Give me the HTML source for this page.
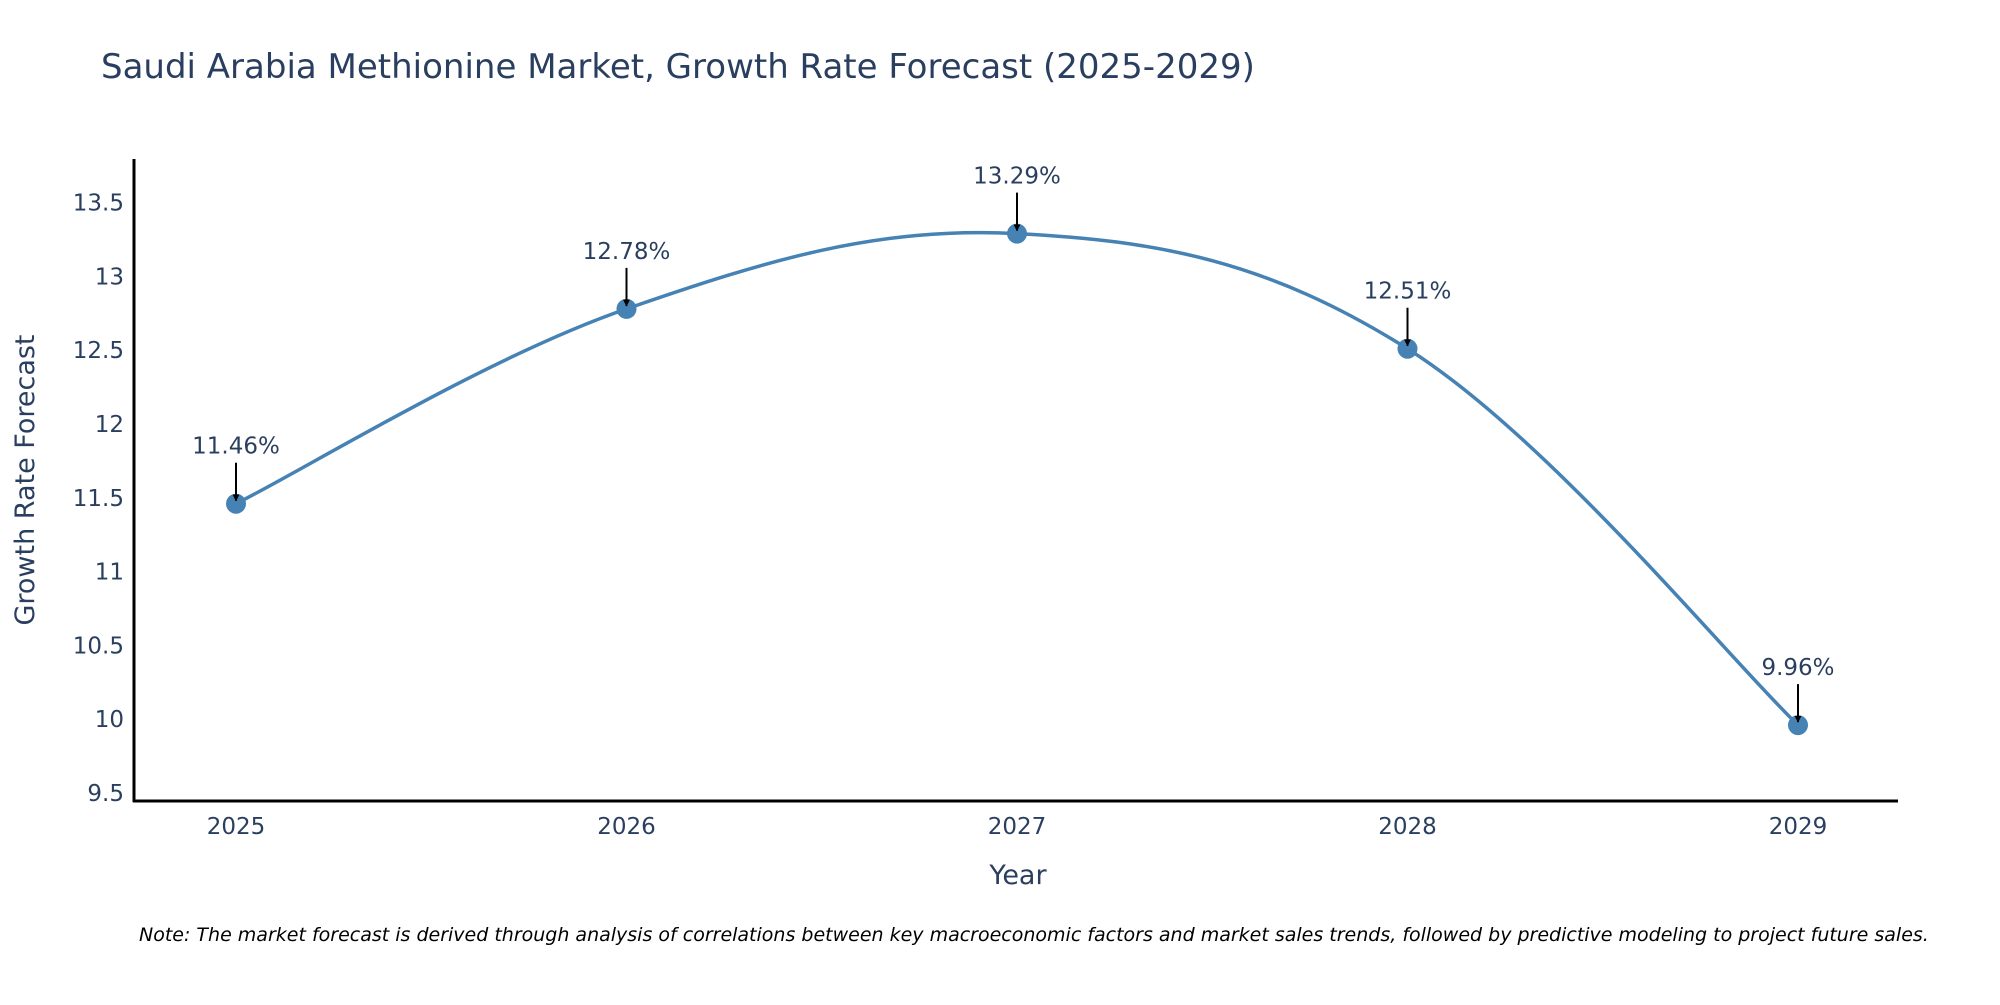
<!DOCTYPE html>
<html><head><meta charset="utf-8"><style>
body{margin:0;background:#fff;}
svg{font-family:"DejaVu Sans","Liberation Sans",sans-serif;}
</style></head><body>
<svg width="2000" height="1000" viewBox="0 0 2000 1000">
<defs><marker id="ah" viewBox="0 0 10 10" refX="9" refY="5" markerWidth="7" markerHeight="7" markerUnits="userSpaceOnUse" orient="auto"><path d="M0,0L10,5L0,10z" fill="#000"/></marker></defs>
<text x="101" y="78" font-size="34" fill="#2a3f5f">Saudi Arabia Methionine Market, Growth Rate Forecast (2025-2029)</text>
<g id="yt"></g>
<g id="xt"></g>
<line x1="134" y1="159" x2="134" y2="802" stroke="#000" stroke-width="3"/>
<line x1="133" y1="801" x2="1898" y2="801" stroke="#000" stroke-width="3"/>
<text transform="translate(34,480) rotate(-90)" text-anchor="middle" font-size="27" fill="#2a3f5f">Growth Rate Forecast</text>
<text x="1018" y="884" text-anchor="middle" font-size="27" fill="#2a3f5f">Year</text>
<path id="ln" fill="none" stroke="#4682b4" stroke-width="3.5"/>
<g id="pts"></g>
<text x="139" y="941" font-size="19" font-style="italic" fill="#000">Note: The market forecast is derived through analysis of correlations between key macroeconomic factors and market sales trends, followed by predictive modeling to project future sales.</text>
</svg>
<script>
const years=[2025,2026,2027,2028,2029];
const values=[11.46,12.78,13.29,12.51,9.96];
const labels=["11.46%","12.78%","13.29%","12.51%","9.96%"];
const yTicks=[9.5,10,10.5,11,11.5,12,12.5,13,13.5];
const NS="http://www.w3.org/2000/svg";
const X=v=>236+(v-2025)*390.5;
const Y=v=>793-(v-9.5)*147.6;
function mk(t,a,p){const e=document.createElementNS(NS,t);for(const k in a)e.setAttribute(k,a[k]);(p||document.querySelector('svg')).appendChild(e);return e;}
const yt=document.getElementById('yt'),xt=document.getElementById('xt'),pts=document.getElementById('pts');
yTicks.forEach(v=>{const t=mk('text',{x:124,y:Y(v)+8,'text-anchor':'end','font-size':23,fill:'#2a3f5f'},yt);t.textContent=String(v);

});
years.forEach(v=>{const t=mk('text',{x:X(v),y:834,'text-anchor':'middle','font-size':23,fill:'#2a3f5f'},xt);t.textContent=String(v);

});
const P=years.map((y,i)=>[X(y),Y(values[i])]);
let d=`M${P[0][0]},${P[0][1]}`;const s=0.18;
for(let i=0;i<P.length-1;i++){const p0=P[Math.max(i-1,0)],p1=P[i],p2=P[i+1],p3=P[Math.min(i+2,P.length-1)];
d+=` C${p1[0]+(p2[0]-p0[0])*s},${p1[1]+(p2[1]-p0[1])*s} ${p2[0]-(p3[0]-p1[0])*s},${p2[1]-(p3[1]-p1[1])*s} ${p2[0]},${p2[1]}`;}
document.getElementById('ln').setAttribute('d',d);
P.forEach((p,i)=>{const c=mk('circle',{cx:p[0],cy:p[1],r:10,fill:'#4682b4'},pts);


const a=mk('line',{x1:p[0],y1:p[1]-41,x2:p[0],y2:p[1]-3,stroke:'#000','stroke-width':2,'marker-end':'url(#ah)'},pts);


const t=mk('text',{x:p[0],y:p[1]-50,'text-anchor':'middle','font-size':23,fill:'#2a3f5f'},pts);t.textContent=labels[i];

});
</script>
</body></html>
